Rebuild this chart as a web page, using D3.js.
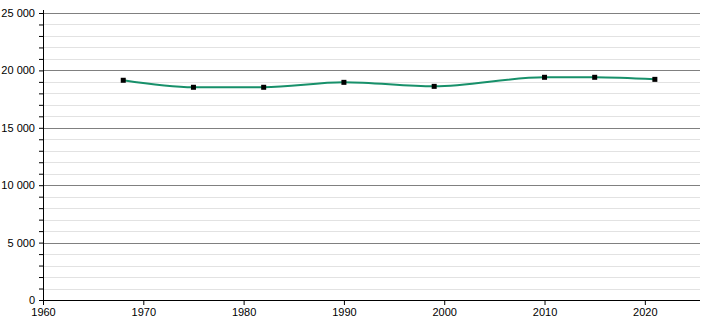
<!DOCTYPE html>
<meta charset="utf-8">
<style>
body { margin: 0; background: #fff; }
text { font-family: "Liberation Sans", Arial, sans-serif; font-size: 11px; fill: #000; }
</style>
<body>
<script src="https://cdn.jsdelivr.net/npm/d3@7"></script>
<script>

// census years and population
var years = [1968, 1975, 1982, 1990, 1999, 2010, 2015, 2021];
var population = [19140, 18530, 18530, 18960, 18610, 19400, 19400, 19220];
var xTicks = [1960, 1970, 1980, 1990, 2000, 2010, 2020];
var yTicks = [0, 5000, 10000, 15000, 20000, 25000];

var margin = {top: 13, right: 10, bottom: 20, left: 43},
    width = 710 - margin.left - margin.right,
    height = 320 - margin.top - margin.bottom;

var x = d3.scaleLinear().domain([1960, 2025.5]).range([0, width]);
var y = d3.scaleLinear().domain([0, 25000]).range([height, 0]);

var svg = d3.select("body").append("svg")
    .attr("width", 710)
    .attr("height", 320)
  .append("g")
    .attr("transform", "translate(" + margin.left + "," + margin.top + ")");

var fmt = function(d) { return d3.format(",")(d).replace(/,/g, " "); };

// minor grid every 1000
var minor = d3.range(0, 25001, 1000).filter(function(d) { return d % 5000 != 0; });
svg.selectAll(".minor")
    .data(minor)
  .enter().append("line")
    .attr("x1", 0).attr("x2", width)
    .attr("y1", function(d) { return Math.round(y(d)) + 0.5; })
    .attr("y2", function(d) { return Math.round(y(d)) + 0.5; })
    .style("stroke", "#e2e2e2");

svg.selectAll(".major")
    .data(yTicks.slice(1))
  .enter().append("line")
    .attr("x1", 0).attr("x2", width)
    .attr("y1", function(d) { return Math.round(y(d)) + 0.5; })
    .attr("y2", function(d) { return Math.round(y(d)) + 0.5; })
    .style("stroke", "#808080");

// y axis with minor ticks
var yAxis = svg.append("g")
    .call(d3.axisLeft(y).tickValues(d3.range(0, 25001, 1000)).tickSize(4)
      .tickFormat(function(d) { return d % 5000 == 0 ? fmt(d) : ""; }));
yAxis.select(".domain").attr("d", "M0.5,-3V" + height);
yAxis.selectAll("text").attr("x", -8);

// x axis
var xAxis = svg.append("g")
    .attr("transform", "translate(0," + height + ")")
    .call(d3.axisBottom(x).tickValues(xTicks).tickSize(5).tickFormat(d3.format("d")));
xAxis.select(".domain").attr("d", "M0," + 0.5 + "H" + width);
xAxis.selectAll("text").attr("y", 8);

// line
var line = d3.line()
    .x(function(d, i) { return x(years[i]); })
    .y(function(d) { return y(d); })
    .curve(d3.curveMonotoneX);

svg.append("path")
    .datum(population)
    .attr("d", line)
    .style("fill", "none")
    .style("stroke", "#17906a")
    .style("stroke-width", 2);

svg.selectAll(".dot")
    .data(population)
  .enter().append("rect")
    .attr("x", function(d, i) { return x(years[i]) - 2.5; })
    .attr("y", function(d) { return y(d) - 2.5; })
    .attr("width", 5)
    .attr("height", 5)
    .style("fill", "#000");

</script>
</body>
